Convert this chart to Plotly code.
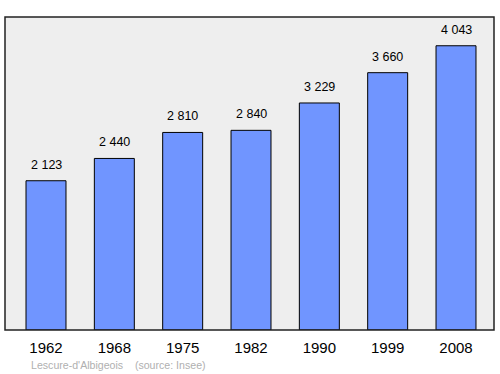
import plotly.graph_objects as go

years = ["1962", "1968", "1975", "1982", "1990", "1999", "2008"]
population = [2123, 2440, 2810, 2840, 3229, 3660, 4043]
source_text = "Lescure-d'Albigeois    (source: Insee)"

labels = [f"{v:,}".replace(",", " ") for v in population]
xpos = list(range(len(years)))

fig = go.Figure()
fig.add_trace(go.Bar(
    x=xpos, y=population, width=0.585,
    marker=dict(color="#7095ff", line=dict(color="#000000", width=1)),
    hoverinfo="skip",
))
annotations = [dict(x=x, y=v, text=t, xref="x", yref="y", showarrow=False,
                    xanchor="center", yanchor="bottom", yshift=7,
                    font=dict(size=12.5, color="#000000"))
               for x, v, t in zip(xpos, population, labels)]
annotations.append(dict(text=source_text, xref="paper", yref="paper",
                        x=0.049, y=-0.112, xanchor="left", yanchor="middle",
                        showarrow=False,
                        font=dict(size=10.6, color="#b0b0b0")))
fig.update_layout(
    width=500, height=374,
    margin=dict(l=5, r=6, t=17, b=44),
    paper_bgcolor="#ffffff", plot_bgcolor="#eeeeee",
    showlegend=False,
    font=dict(family="Liberation Sans, Arial, sans-serif"),
    xaxis=dict(range=[-0.60, 6.556], tickvals=xpos, ticktext=years,
               showgrid=False, zeroline=False, ticks="", fixedrange=True,
               ticklabelstandoff=7,
               tickfont=dict(size=15, color="#000000")),
    yaxis=dict(range=[0, 4452], showgrid=False, zeroline=False,
               showticklabels=False, ticks=""),
    shapes=[dict(type="rect", xref="paper", yref="paper", x0=0, y0=0, x1=1, y1=1,
                 line=dict(color="#222222", width=1.5))],
    annotations=annotations,
)
fig.write_html("out.html")
